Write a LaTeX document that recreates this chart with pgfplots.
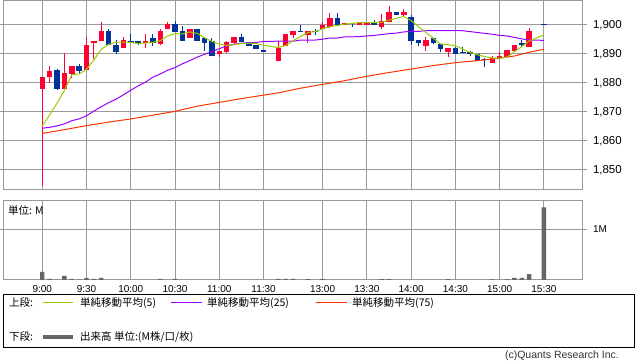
\documentclass[border=0pt]{standalone}
\usepackage{pgfplots}
\pgfplotsset{compat=1.18}
\usepackage{pgfplotstable}
\usepackage{fontspec}
\setmainfont{Liberation Sans}
\newfontfamily\jp{Noto Sans CJK JP}
\definecolor{candleup}{HTML}{FF0033}
\definecolor{candledn}{HTML}{003399}
\definecolor{maA}{HTML}{99CC00}
\definecolor{maB}{HTML}{9900FF}
\definecolor{maC}{HTML}{FF3300}
\definecolor{gridc}{HTML}{999999}
\definecolor{volc}{HTML}{666666}

% up candles (red): index, open, high, low, close
\pgfplotstableread{
x o h l c
0 1878.0 1882.0 1844.6 1882.0
1 1882.0 1886.0 1880.1 1884.0
3 1878.0 1890.5 1877.8 1883.4
4 1883.1 1885.9 1881.6 1885.9
6 1884.6 1895.9 1884.6 1893.2
7 1893.9 1894.5 1888.2 1894.5
8 1894.5 1901.0 1894.5 1897.9
11 1892.2 1895.9 1892.2 1894.8
14 1893.7 1897.0 1892.2 1894.5
16 1893.6 1898.5 1893.2 1897.9
17 1898.5 1901.0 1898.5 1900.3
20 1895.5 1898.5 1895.5 1898.5
24 1889.9 1891.1 1888.9 1891.1
25 1890.8 1894.5 1890.2 1894.1
26 1893.7 1895.9 1893.0 1895.9
32 1887.6 1894.5 1887.6 1892.2
33 1892.9 1897.0 1892.6 1897.0
34 1896.7 1897.9 1895.6 1897.9
36 1896.7 1897.9 1893.9 1897.9
38 1898.5 1901.0 1898.5 1900.0
39 1899.4 1904.1 1898.9 1902.4
41 1899.9 1900.8 1899.9 1900.8
43 1899.9 1900.9 1899.9 1900.9
44 1899.9 1901.0 1899.9 1901.0
46 1899.4 1903.8 1898.6 1901.5
47 1901.0 1906.6 1901.0 1904.5
49 1903.3 1905.4 1902.9 1904.3
52 1892.9 1895.7 1891.1 1894.8
55 1890.6 1892.1 1888.9 1892.1
61 1886.8 1889.3 1886.8 1888.5
62 1888.7 1890.8 1888.5 1889.3
63 1889.1 1891.4 1889.1 1891.4
64 1891.1 1893.1 1891.1 1893.1
66 1892.3 1898.9 1892.3 1897.9
}\upc

% down candles (blue): index, open, high, low, close
\pgfplotstableread{
x o h l c
2 1884.5 1884.8 1877.7 1878.0
5 1885.9 1886.6 1883.1 1884.1
9 1897.9 1898.5 1893.2 1893.2
10 1893.2 1894.8 1890.1 1890.8
12 1894.5 1897.0 1893.9 1893.9
13 1894.5 1894.5 1893.1 1893.7
15 1895.5 1897.0 1892.9 1893.9
18 1900.3 1901.4 1897.5 1897.5
19 1897.9 1899.7 1894.6 1894.6
21 1898.5 1898.5 1894.6 1894.6
22 1895.5 1895.5 1891.1 1893.9
23 1894.3 1895.5 1889.2 1889.2
27 1895.9 1897.0 1894.1 1894.1
28 1894.1 1894.1 1892.9 1892.9
29 1893.1 1893.1 1891.8 1891.8
30 1891.2 1891.2 1890.8 1890.8
35 1897.9 1900.0 1897.5 1897.5
37 1897.9 1898.6 1896.7 1897.5
40 1902.4 1904.1 1900.0 1900.0
42 1900.8 1900.8 1899.4 1900.3
45 1901.0 1901.7 1899.9 1899.9
48 1904.3 1904.3 1903.3 1903.3
50 1902.6 1903.3 1893.1 1894.6
51 1894.8 1894.8 1892.9 1893.7
53 1895.5 1895.5 1893.4 1893.7
54 1893.4 1893.4 1890.6 1891.8
56 1892.1 1892.5 1890.0 1890.0
57 1890.8 1892.5 1890.2 1890.4
58 1890.8 1891.1 1889.3 1890.0
59 1889.9 1890.0 1887.4 1887.4
60 1888.4 1888.5 1885.6 1888.0
65 1893.7 1894.8 1892.3 1893.0
68 1900.4 1900.4 1900.0 1900.0
}\dnc

\pgfplotstableread{
x v
0 1865.2
1 1869.0
2 1873.0
3 1877.4
4 1882.8
5 1883.1
6 1884.7
7 1887.9
8 1891.6
9 1893.3
10 1894.0
11 1894.1
12 1894.0
13 1893.6
14 1893.8
15 1894.0
16 1894.6
17 1896.2
18 1897.0
19 1896.9
20 1897.6
21 1897.1
22 1895.6
23 1894.3
24 1893.4
25 1892.9
26 1893.2
27 1893.6
28 1893.7
29 1893.6
30 1893.0
32 1892.2
33 1892.9
34 1894.6
35 1896.0
36 1897.4
37 1897.7
38 1898.7
39 1899.4
40 1899.8
41 1900.3
42 1900.5
43 1900.8
44 1900.8
45 1900.8
46 1900.9
47 1901.7
48 1902.3
49 1902.9
50 1901.5
51 1899.4
52 1897.4
53 1895.4
54 1893.4
55 1893.2
56 1892.8
57 1891.7
58 1890.5
59 1889.7
60 1889.1
61 1888.6
62 1888.6
63 1888.9
64 1890.8
65 1892.5
66 1894.5
68 1896.6
}\smaA

\pgfplotstableread{
x v
0 1864.4
1 1864.7
2 1865.2
3 1865.9
4 1867.0
5 1867.6
6 1868.7
7 1870.3
8 1871.8
9 1873.2
10 1874.4
11 1875.9
12 1877.5
13 1879.0
14 1880.3
15 1882.0
16 1883.1
17 1884.4
18 1885.3
19 1886.6
20 1887.7
21 1888.9
22 1889.9
23 1890.8
24 1891.8
25 1892.8
26 1893.3
27 1893.7
28 1893.9
29 1894.0
30 1894.3
32 1894.4
33 1894.4
34 1894.4
35 1894.8
36 1894.8
37 1894.8
38 1895.1
39 1895.5
40 1895.5
41 1895.9
42 1895.9
43 1896.0
44 1896.2
45 1896.4
46 1896.7
47 1897.0
48 1897.2
49 1897.6
50 1897.8
51 1897.8
52 1898.0
53 1898.0
54 1898.0
55 1898.0
56 1898.1
57 1898.0
58 1897.7
59 1897.4
60 1897.1
61 1896.8
62 1896.4
63 1896.2
64 1895.7
65 1895.2
66 1894.8
68 1894.7
}\smaB

\pgfplotstableread{
x v
0 1862.6
3 1863.9
6 1865.3
9 1866.5
12 1867.6
15 1868.9
18 1870.2
21 1872.0
24 1873.3
27 1874.6
30 1875.8
32 1876.6
35 1878.2
38 1879.5
41 1880.8
44 1882.3
47 1883.6
50 1884.8
53 1886.0
56 1887.0
59 1887.7
62 1888.5
64 1889.3
66 1890.6
68 1891.6
}\smaC

\pgfplotstableread{
x v
0 0.16
1 0.02
2 0.006
3 0.08
4 0.02
5 0.006
6 0.04
7 0.02
8 0.04
16 0.02
18 0.02
32 0.02
33 0.02
34 0.02
36 0.015
38 0.015
46 0.015
47 0.015
55 0.015
61 0.013
63 0.013
64 0.04
65 0.04
66 0.118
68 1.434
}\vol

\begin{document}
\begin{tikzpicture}
\useasboundingbox (0pt,0pt) rectangle (638pt,362pt);
\pgfplotsset{
  common/.style={
    scale only axis, width=579pt,
    xmin=-5.28, xmax=73.2,
    xtick={0,6,12,18,24,30,38,44,50,56,62,68},
    axis line style={gridc, line width=1pt},
    grid=major,
    major grid style={gridc, line width=1pt},
    tick align=outside,
    major tick length=4.5pt,
    xtick style={draw=none},
    ytick style={gridc, line width=1pt},
    yticklabel pos=right,
  },
}
% price panel
\begin{axis}[common,
  at={(3.3pt,172pt)}, anchor=south west, height=190pt,
  ymin=1843.1, ymax=1908.6,
  xticklabels={},
  ytick={1850,1860,1870,1880,1890,1900},
  yticklabels={{1,850},{1,860},{1,870},{1,880},{1,890},{1,900}},
  yticklabel style={font=\fontsize{11.5}{13}\selectfont, anchor=west, inner sep=0pt, xshift=6pt},
]
\addplot[draw=none, mark=none, forget plot,
  error bars/.cd, y dir=plus, y explicit, error mark=none,
  error bar style={draw=candleup, line width=1pt}]
  table[x=x, y=l, y error plus expr=\thisrow{h}-\thisrow{l}] {\upc};
\addplot[draw=none, mark=none, forget plot,
  error bars/.cd, y dir=plus, y explicit, error mark=none,
  error bar style={draw=candleup, line width=5.5pt}]
  table[x=x, y=o, y error plus expr=\thisrow{c}-\thisrow{o}] {\upc};
\addplot[draw=none, mark=none, forget plot,
  error bars/.cd, y dir=plus, y explicit, error mark=none,
  error bar style={draw=candledn, line width=1pt}]
  table[x=x, y=l, y error plus expr=\thisrow{h}-\thisrow{l}] {\dnc};
\addplot[draw=none, mark=none, forget plot,
  error bars/.cd, y dir=plus, y explicit, error mark=none,
  error bar style={draw=candledn, line width=5.5pt}]
  table[x=x, y=c, y error plus expr=\thisrow{o}-\thisrow{c}] {\dnc};
\addplot[maC, line width=1pt, mark=none] table[x=x, y=v] {\smaC};
\addplot[maB, line width=1pt, mark=none] table[x=x, y=v] {\smaB};
\addplot[maA, line width=1pt, mark=none] table[x=x, y=v] {\smaA};
\end{axis}
% volume panel
\begin{axis}[common,
  at={(3.3pt,82pt)}, anchor=south west, height=79pt,
  ymin=0, ymax=1.56,
  xticklabels={9:00,9:30,10:00,10:30,11:00,11:30,13:00,13:30,14:00,14:30,15:00,15:30},
  xticklabel style={font=\fontsize{10}{12}\selectfont, anchor=north, inner sep=0pt, yshift=-1pt},
  ytick={1}, yticklabels={1M},
  yticklabel style={font=\fontsize{10}{12}\selectfont, anchor=west, inner sep=0pt, xshift=6pt},
]
\addplot[ybar, bar width=4.4pt, fill=volc, draw=none] table[x=x, y=v] {\vol};
\end{axis}
\node[anchor=west, inner sep=0pt, font=\jp\fontsize{10.5}{12}\selectfont] at (8pt,151.5pt) {単位: M};
% legend box
\draw[black, line width=1pt] (3.5pt,15pt) rectangle (634pt,67pt);
\begin{scope}[every node/.style={anchor=west, inner sep=0pt, font=\jp\fontsize{10.5}{13}\selectfont}]
\node at (9pt,59pt) {上段:};
\draw[maA, line width=1pt] (43pt,59pt) -- (73pt,59pt);
\node at (80pt,59pt) {単純移動平均(5)};
\draw[maB, line width=1pt] (171pt,59pt) -- (202pt,59pt);
\node at (207pt,59pt) {単純移動平均(25)};
\draw[maC, line width=1pt] (316pt,59pt) -- (347pt,59pt);
\node at (352pt,59pt) {単純移動平均(75)};
\node at (9pt,25pt) {下段:};
\draw[volc, line width=3.5pt] (43pt,25pt) -- (73pt,25pt);
\node at (80pt,25pt) {出来高 単位:(M株/口/枚)};
\end{scope}
\node[anchor=east, inner sep=0pt, font=\fontsize{10.5}{12}\selectfont, text=black!80] at (619pt,6pt) {(c)Quants Research Inc.};
\end{tikzpicture}
\end{document}
